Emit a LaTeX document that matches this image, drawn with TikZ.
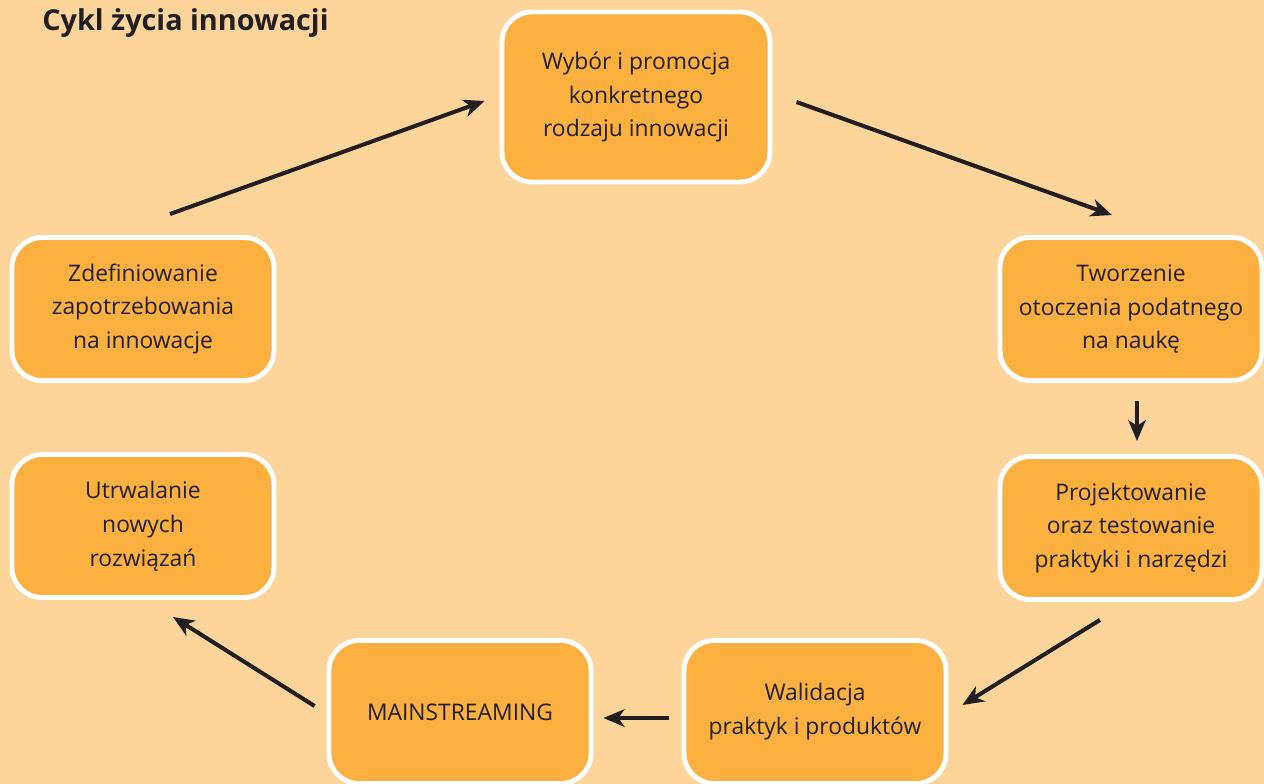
\documentclass[tikz,border=0pt]{standalone}
\usepackage{fontspec}
\setmainfont{Open Sans}
\usetikzlibrary{arrows.meta}
\definecolor{bgpeach}{HTML}{FDD49A}
\definecolor{boxorange}{HTML}{FBB040}
\definecolor{inkdark}{HTML}{231F20}

\begin{document}
\begin{tikzpicture}[x=0.02cm,y=-0.02cm,
  stage/.style={draw=white,line width=2.8pt,fill=boxorange,rounded corners=0.6cm,
    minimum width=5.24cm,minimum height=2.86cm,align=center,text=inkdark,
    font=\fontsize{13}{19.3}\selectfont},
  flow/.style={draw=inkdark,line width=2.3pt,-{Stealth[length=12pt,width=10pt,inset=3.5pt]}}]
\fill[bgpeach] (0,0) rectangle (1264,784);
\useasboundingbox (0,0) rectangle (1264,784);
\node[anchor=base west,inner sep=0pt,font=\fontsize{16.4}{19}\selectfont\bfseries,text=inkdark] (title) at (42,31) {Cykl życia innowacji};

\node[stage,minimum width=5.36cm,minimum height=3.4cm] (wybor) at (636,97) {Wybór i promocja\\konkretnego\\rodzaju innowacji};
\node[stage] (tworz) at (1131,309) {Tworzenie\\otoczenia podatnego\\na naukę};
\node[stage] (proj) at (1131,528) {Projektowanie\\oraz testowanie\\praktyki i narzędzi};
\node[stage] (walid) at (815,712) {Walidacja\\praktyk i produktów};
\node[stage] (main) at (460,712) {MAINSTREAMING};
\node[stage] (utrw) at (143,526) {Utrwalanie\\nowych\\rozwiązań};
\node[stage] (zdef) at (143,309) {Zdefiniowanie\\zapotrzebowania\\na innowacje};

% cycle
\draw[flow] ([shift={(27,-21)}]zdef.north) -- ([shift={(-15,4)}]wybor.west);
\draw[flow] ([shift={(24,5)}]wybor.east) -- ([shift={(-19,-20)}]tworz.north);
\draw[flow] ([shift={(6,18)}]tworz.south) -- ([shift={(6,-13)}]proj.north);
\draw[flow] ([shift={(-31,18)}]proj.south) -- ([shift={(14,-7)}]walid.east);
\draw[flow] ([shift={(-13,6)}]walid.west) -- ([shift={(10,6)}]main.east);
\draw[flow] ([shift={(-12,-6)}]main.west) -- ([shift={(30,17)}]utrw.south);
\end{tikzpicture}
\end{document}
